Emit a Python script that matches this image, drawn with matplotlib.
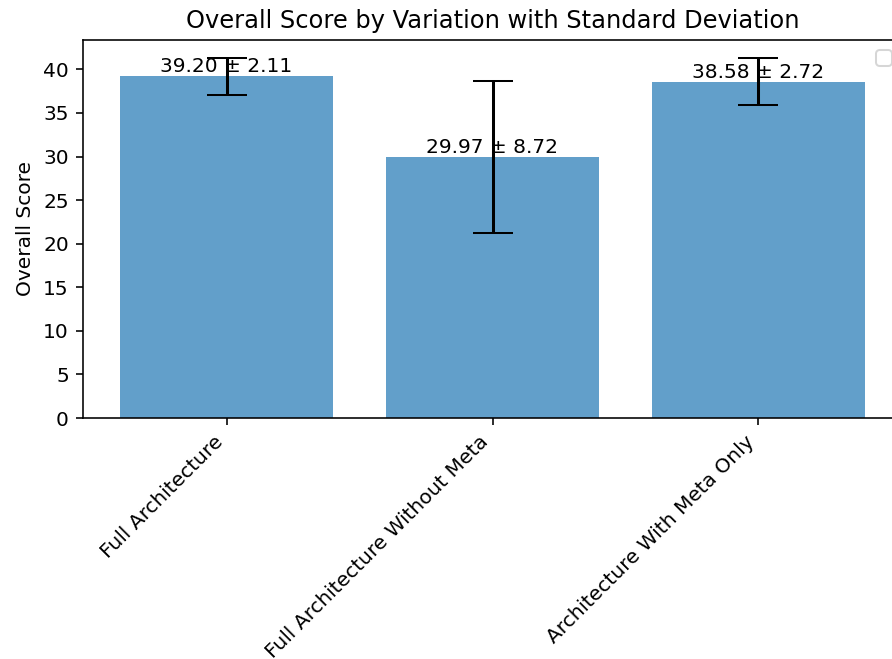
import matplotlib
matplotlib.use("Agg")
import matplotlib.pyplot as plt
import numpy as np

# values
variations = ["Full Architecture", "Full Architecture Without Meta", "Architecture With Meta Only"]
means = [39.20, 29.97, 38.58]
stds = [2.11, 8.72, 2.72]

DPI = 145
fig = plt.figure(figsize=(892 / DPI, 659 / DPI), dpi=DPI)
# axes runs a little past the right edge, like the cropped reference
ax = fig.add_axes([83 / 892, 241 / 659, 819 / 892, 378 / 659])

x = np.arange(len(variations))
bars = ax.bar(x, means, yerr=stds, capsize=10, alpha=0.7, color="tab:blue")

for b, m, s in zip(bars, means, stds):
    ax.text(b.get_x() + b.get_width() / 2, b.get_height(), f"{m:.2f} ± {s:.2f}",
            ha="center", va="bottom")

ax.set_xticks(x)
ax.set_xticklabels(variations, rotation=45, ha="right")
ax.set_ylabel("Overall Score")
ax.set_title("Overall Score by Variation with Standard Deviation")
ax.legend()

fig.savefig("out.png", dpi=DPI)
